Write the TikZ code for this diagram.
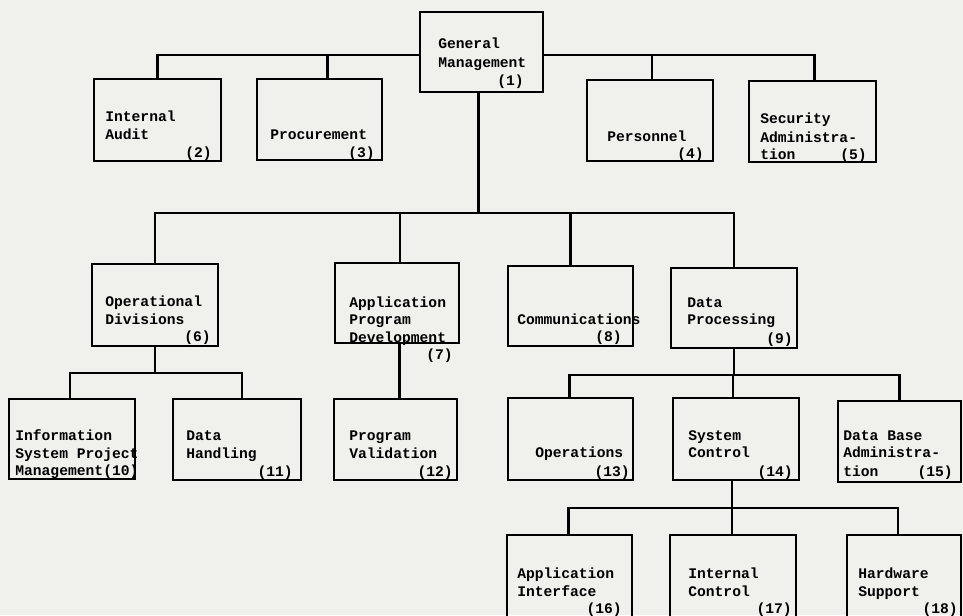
\documentclass[tikz,border=0pt]{standalone}
\usepackage{fontspec}
\newfontfamily\tw{Liberation Mono}
\usetikzlibrary{calc,fit}
\definecolor{paper}{RGB}{240,240,237}
\begin{document}
\begin{tikzpicture}[x=0.75pt,y=-0.75pt,
  box/.style={draw, line width=1.6pt, inner sep=0pt, outer sep=0pt},
  link/.style={line width=1.7pt},
  txt/.style={anchor=base west, inner sep=0pt, font=\tw\bfseries\fontsize{11}{13}\selectfont},
  nr/.style={anchor=base east, inner sep=0pt, font=\tw\bfseries\fontsize{11}{13}\selectfont}]
\useasboundingbox (0,0) rectangle (963,615);
\clip (0,0) rectangle (963,615);
\fill[paper] (0,0) rectangle (963,615);
% boxes
\node[box, fit={(420,12) (543,92)}] (b1) {};
\node[box, fit={(94,79) (221,161)}] (b2) {};
\node[box, fit={(257,79) (382,160)}] (b3) {};
\node[box, fit={(587,80) (713,161)}] (b4) {};
\node[box, fit={(749,81) (876,162)}] (b5) {};
\node[box, fit={(92,264) (218,346)}] (b6) {};
\node[box, fit={(335,263) (459,343)}] (b7) {};
\node[box, fit={(508,266) (633,346)}] (b8) {};
\node[box, fit={(671,268) (797,348)}] (b9) {};
\node[box, fit={(9,399) (135,479)}] (b10) {};
\node[box, fit={(173,399) (301,480)}] (b11) {};
\node[box, fit={(334,399) (457,480)}] (b12) {};
\node[box, fit={(508,398) (633,480)}] (b13) {};
\node[box, fit={(673,398) (799,480)}] (b14) {};
\node[box, fit={(838,401) (961,482)}] (b15) {};
\node[box, fit={(507,535) (632,630)}] (b16) {};
\node[box, fit={(670,535) (796,630)}] (b17) {};
\node[box, fit={(847,535) (961,630)}] (b18) {};
% rails
\coordinate (r1) at (0,55);
\coordinate (r2) at (0,213);
\coordinate (r3) at (0,373);
\coordinate (r4) at (0,375);
\coordinate (r5) at (0,508);
% level 1
\draw[link] (b2.north) |- (b1.west |- r1);
\draw[link] ($(b3.north)+(8,0)$) -- ($(b3.north |- r1)+(8,0)$);
\draw[link] (b1.east |- r1) -| ($(b5.north)+(2,0)$);
\draw[link] ($(b4.north)+(2,0)$) -- ($(b4.north |- r1)+(2,0)$);
% level 2
\draw[link] ($(b1.south)+(-3,0)$) -- ($(b1.south |- r2)+(-3,0)$);
\draw[link] (b6.north) |- (b9.north |- r2) -- (b9.north);
\draw[link] ($(b7.north)+(3,0)$) -- ($(b7.north |- r2)+(3,0)$);
\draw[link] (b8.north) -- (b8.north |- r2);
% under operational divisions
\draw[link] (b6.south) -- (b6.south |- r3);
\draw[link] ($(b10.north)+(-2,0)$) |- ($(b11.north |- r3)+(5,0)$) -- ($(b11.north)+(5,0)$);
% application program development to program validation
\draw[link] ($(b12.north)+(4,0)$) -- ($(b12.north |- b7.south)+(4,0)$);
% under data processing
\draw[link] (b9.south) -- (b9.south |- r4);
\draw[link] ($(b13.north)+(-1,0)$) |- (b15.north |- r4) -- (b15.north);
\draw[link] ($(b14.north)+(-3,0)$) -- ($(b14.north |- r4)+(-3,0)$);
% under system control
\draw[link] ($(b14.south)+(-4,0)$) -- ($(b14.south |- r5)+(-4,0)$);
\draw[link] ($(b16.north)+(-1,0)$) |- ($(b18.north |- r5)+(-6,0)$) -- ($(b18.north)+(-6,0)$);
\draw[link] ($(b17.north)+(-1,0)$) -- ($(b17.north |- r5)+(-1,0)$);
% texts
\node[txt] (t1a) at (438,48) {General};
\node[txt] (t1b) at (438,67) {Management};
\node[nr] (t1c) at (524,85) {(1)};
\node[txt] (t2a) at (105,121) {Internal};
\node[txt] (t2b) at (105,139) {Audit};
\node[nr] (t2c) at (212,157) {(2)};
\node[txt] (t3a) at (270,139) {Procurement};
\node[nr] (t3c) at (375,157) {(3)};
\node[txt] (t4a) at (607,141) {Personnel};
\node[nr] (t4c) at (704,158) {(4)};
\node[txt] (t5a) at (760,123) {Security};
\node[txt] (t5b) at (760,142) {Administra-};
\node[txt] (t5c) at (760,159) {tion};
\node[nr] (t5d) at (867,159) {(5)};
\node[txt] (t6a) at (105,306) {Operational};
\node[txt] (t6b) at (105,324) {Divisions};
\node[nr] (t6c) at (211,341) {(6)};
\node[txt] (t7a) at (349,307) {Application};
\node[txt] (t7b) at (349,324) {Program};
\node[txt] (t7c) at (349,342) {Development};
\node[nr] (t7d) at (453,359) {(7)};
\node[txt] (t8a) at (517,324) {Communications};
\node[nr] (t8c) at (622,341) {(8)};
\node[txt] (t9a) at (687,307) {Data};
\node[txt] (t9b) at (687,324) {Processing};
\node[nr] (t9c) at (793,343) {(9)};
\node[txt] (t10a) at (15,440) {Information};
\node[txt] (t10b) at (15,458) {System Project};
\node[txt] (t10c) at (15,475) {Management(10)};
\node[txt] (t11a) at (186,440) {Data};
\node[txt] (t11b) at (186,458) {Handling};
\node[nr] (t11c) at (293,476) {(11)};
\node[txt] (t12a) at (349,440) {Program};
\node[txt] (t12b) at (349,458) {Validation};
\node[nr] (t12c) at (453,476) {(12)};
\node[txt] (t13a) at (535,457) {Operations};
\node[nr] (t13c) at (630,476) {(13)};
\node[txt] (t14a) at (688,440) {System};
\node[txt] (t14b) at (688,457) {Control};
\node[nr] (t14c) at (793,476) {(14)};
\node[txt] (t15a) at (843,440) {Data Base};
\node[txt] (t15b) at (843,457) {Administra-};
\node[txt] (t15c) at (843,476) {tion};
\node[nr] (t15d) at (953,476) {(15)};
\node[txt] (t16a) at (517,578) {Application};
\node[txt] (t16b) at (517,596) {Interface};
\node[nr] (t16c) at (622,613) {(16)};
\node[txt] (t17a) at (688,578) {Internal};
\node[txt] (t17b) at (688,596) {Control};
\node[nr] (t17c) at (792,613) {(17)};
\node[txt] (t18a) at (858,578) {Hardware};
\node[txt] (t18b) at (858,596) {Support};
\node[nr] (t18c) at (958,613) {(18)};
\end{tikzpicture}
\end{document}
